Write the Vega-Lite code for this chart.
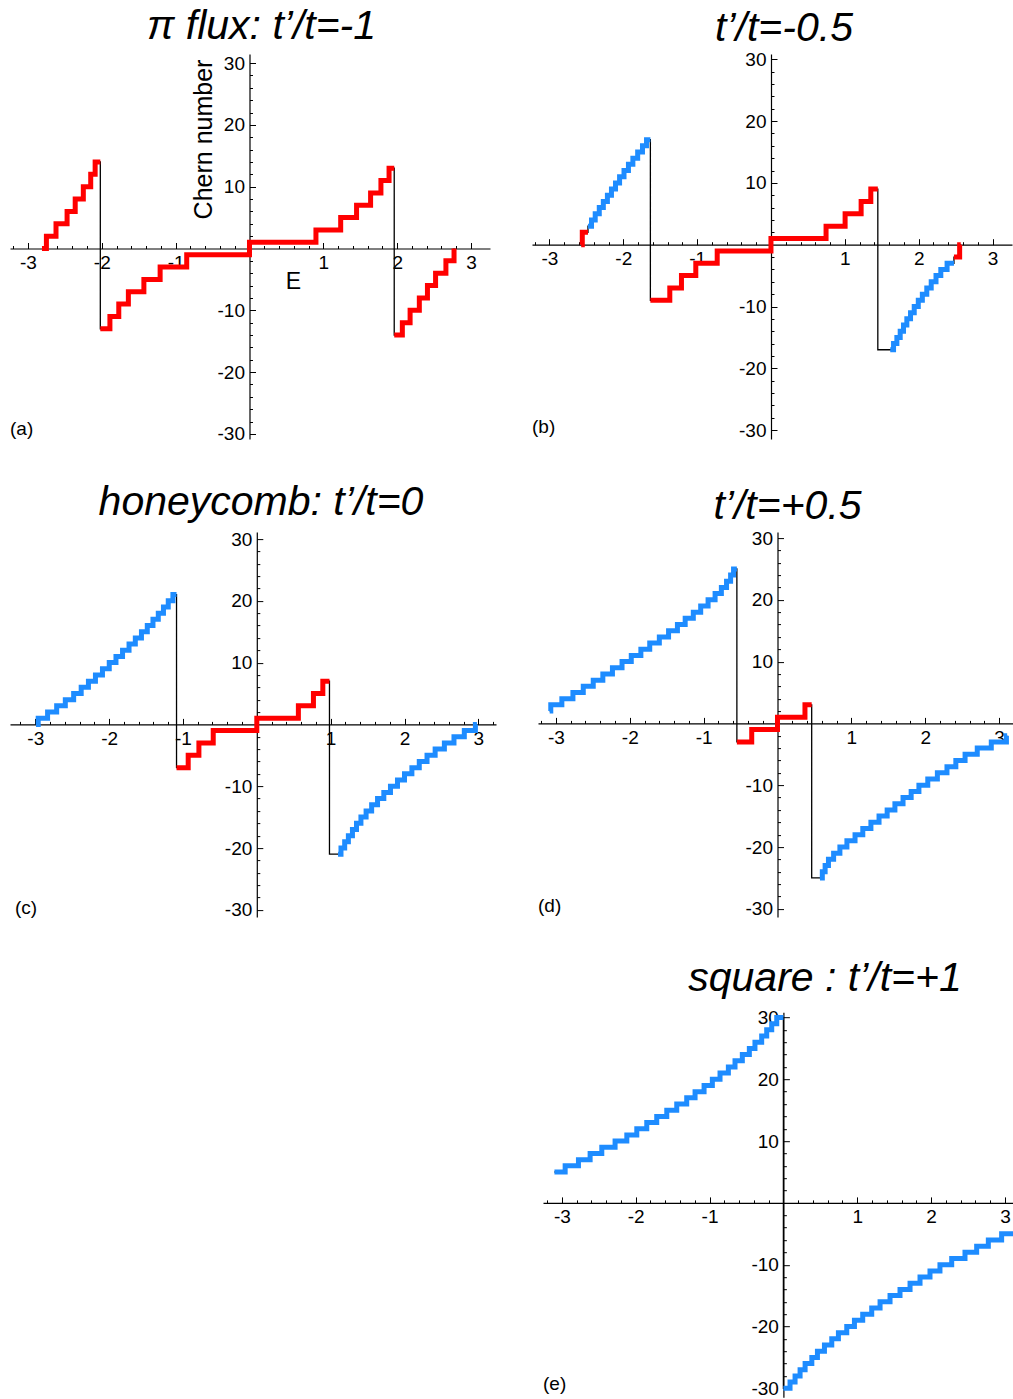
{
  "$schema": "https://vega.github.io/schema/vega-lite/v6.json",
  "background": "white",
  "padding": {"left": 10, "top": 6, "right": 0, "bottom": 0},
  "config": {
    "view": {"stroke": null},
    "axis": {"grid": false, "domainColor": "black", "tickColor": "black", "labelColor": "black", "labelFont": "Liberation Sans", "labelFontSize": 19, "domainWidth": 1.2, "tickWidth": 1, "labelFlush": false, "labelOverlap": false, "labelPadding": 11, "titleColor": "black", "titleFont": "Liberation Sans", "titleFontWeight": "normal"},
    "title": {"font": "Liberation Sans", "fontStyle": "italic", "fontWeight": "normal", "fontSize": 41, "color": "black", "anchor": "middle", "frame": "group", "baseline": "alphabetic"},
    "text": {"font": "Liberation Sans", "fontSize": 19, "color": "black"},
    "line": {"interpolate": "step-after"}
  },
  "datasets": {
    "a": [
      {"E": -2.81, "C": 0, "s": "r", "g": 1}, {"E": -2.75, "C": 2, "s": "r", "g": 1}, {"E": -2.62, "C": 4, "s": "r", "g": 1}, {"E": -2.47, "C": 6, "s": "r", "g": 1}, {"E": -2.36, "C": 8, "s": "r", "g": 1}, {"E": -2.25, "C": 10, "s": "r", "g": 1}, {"E": -2.15, "C": 12, "s": "r", "g": 1}, {"E": -2.09, "C": 14, "s": "r", "g": 1}, {"E": -2.02, "C": 14, "s": "r", "g": 1},
      {"E": -2.02, "C": -13, "s": "r", "g": 2}, {"E": -1.89, "C": -11, "s": "r", "g": 2}, {"E": -1.77, "C": -9, "s": "r", "g": 2}, {"E": -1.64, "C": -7, "s": "r", "g": 2}, {"E": -1.43, "C": -5, "s": "r", "g": 2}, {"E": -1.21, "C": -3, "s": "r", "g": 2}, {"E": -0.85, "C": -1, "s": "r", "g": 2}, {"E": 0, "C": 1, "s": "r", "g": 2}, {"E": 0.9, "C": 3, "s": "r", "g": 2}, {"E": 1.235, "C": 5, "s": "r", "g": 2}, {"E": 1.45, "C": 7, "s": "r", "g": 2}, {"E": 1.64, "C": 9, "s": "r", "g": 2}, {"E": 1.78, "C": 11, "s": "r", "g": 2}, {"E": 1.89, "C": 13, "s": "r", "g": 2}, {"E": 1.96, "C": 13, "s": "r", "g": 2},
      {"E": 1.96, "C": -14, "s": "r", "g": 3}, {"E": 2.07, "C": -12, "s": "r", "g": 3}, {"E": 2.175, "C": -10, "s": "r", "g": 3}, {"E": 2.3, "C": -8, "s": "r", "g": 3}, {"E": 2.41, "C": -6, "s": "r", "g": 3}, {"E": 2.52, "C": -4, "s": "r", "g": 3}, {"E": 2.66, "C": -2, "s": "r", "g": 3}, {"E": 2.77, "C": 0, "s": "r", "g": 3}
    ],
    "b": [
      {"E": -2.57, "C": 0, "s": "r", "g": 1}, {"E": -2.555, "C": 2, "s": "r", "g": 1}, {"E": -2.478, "C": 2, "s": "r", "g": 1},
      {"E": -2.478, "C": 3, "s": "b", "g": 2}, {"E": -2.43, "C": 4, "s": "b", "g": 2}, {"E": -2.38, "C": 5, "s": "b", "g": 2}, {"E": -2.325, "C": 6, "s": "b", "g": 2}, {"E": -2.27, "C": 7, "s": "b", "g": 2}, {"E": -2.215, "C": 8, "s": "b", "g": 2}, {"E": -2.16, "C": 9, "s": "b", "g": 2}, {"E": -2.105, "C": 10, "s": "b", "g": 2}, {"E": -2.05, "C": 11, "s": "b", "g": 2}, {"E": -1.99, "C": 12, "s": "b", "g": 2}, {"E": -1.93, "C": 13, "s": "b", "g": 2}, {"E": -1.87, "C": 14, "s": "b", "g": 2}, {"E": -1.805, "C": 15, "s": "b", "g": 2}, {"E": -1.74, "C": 16, "s": "b", "g": 2}, {"E": -1.685, "C": 17, "s": "b", "g": 2}, {"E": -1.633, "C": 17, "s": "b", "g": 2},
      {"E": -1.633, "C": -9, "s": "r", "g": 3}, {"E": -1.37, "C": -7, "s": "r", "g": 3}, {"E": -1.212, "C": -5, "s": "r", "g": 3}, {"E": -1.018, "C": -3, "s": "r", "g": 3}, {"E": -0.728, "C": -1, "s": "r", "g": 3}, {"E": 0, "C": 1, "s": "r", "g": 3}, {"E": 0.746, "C": 3, "s": "r", "g": 3}, {"E": 1.004, "C": 5, "s": "r", "g": 3}, {"E": 1.221, "C": 7, "s": "r", "g": 3}, {"E": 1.352, "C": 9, "s": "r", "g": 3}, {"E": 1.447, "C": 9, "s": "r", "g": 3},
      {"E": 1.447, "C": -17, "s": "k", "g": 0},
      {"E": 1.615, "C": -17, "s": "b", "g": 4}, {"E": 1.66, "C": -16, "s": "b", "g": 4}, {"E": 1.705, "C": -15, "s": "b", "g": 4}, {"E": 1.75, "C": -14, "s": "b", "g": 4}, {"E": 1.795, "C": -13, "s": "b", "g": 4}, {"E": 1.84, "C": -12, "s": "b", "g": 4}, {"E": 1.89, "C": -11, "s": "b", "g": 4}, {"E": 1.94, "C": -10, "s": "b", "g": 4}, {"E": 1.995, "C": -9, "s": "b", "g": 4}, {"E": 2.05, "C": -8, "s": "b", "g": 4}, {"E": 2.11, "C": -7, "s": "b", "g": 4}, {"E": 2.17, "C": -6, "s": "b", "g": 4}, {"E": 2.235, "C": -5, "s": "b", "g": 4}, {"E": 2.3, "C": -4, "s": "b", "g": 4}, {"E": 2.385, "C": -3, "s": "b", "g": 4}, {"E": 2.478, "C": -3, "s": "b", "g": 4},
      {"E": 2.478, "C": -2, "s": "r", "g": 5}, {"E": 2.555, "C": 0, "s": "r", "g": 5}, {"E": 2.57, "C": 0, "s": "r", "g": 5}
    ],
    "c": [
      {"E": -2.99, "C": 0, "s": "b", "g": 1}, {"E": -2.96, "C": 1, "s": "b", "g": 1}, {"E": -2.833, "C": 2, "s": "b", "g": 1}, {"E": -2.71, "C": 3, "s": "b", "g": 1}, {"E": -2.593, "C": 4, "s": "b", "g": 1}, {"E": -2.48, "C": 5, "s": "b", "g": 1}, {"E": -2.378, "C": 6, "s": "b", "g": 1}, {"E": -2.28, "C": 7, "s": "b", "g": 1}, {"E": -2.185, "C": 8, "s": "b", "g": 1}, {"E": -2.09, "C": 9, "s": "b", "g": 1}, {"E": -1.998, "C": 10, "s": "b", "g": 1}, {"E": -1.907, "C": 11, "s": "b", "g": 1}, {"E": -1.818, "C": 12, "s": "b", "g": 1}, {"E": -1.73, "C": 13, "s": "b", "g": 1}, {"E": -1.645, "C": 14, "s": "b", "g": 1}, {"E": -1.562, "C": 15, "s": "b", "g": 1}, {"E": -1.483, "C": 16, "s": "b", "g": 1}, {"E": -1.406, "C": 17, "s": "b", "g": 1}, {"E": -1.334, "C": 18, "s": "b", "g": 1}, {"E": -1.264, "C": 19, "s": "b", "g": 1}, {"E": -1.199, "C": 20, "s": "b", "g": 1}, {"E": -1.136, "C": 21, "s": "b", "g": 1}, {"E": -1.087, "C": 21, "s": "b", "g": 1},
      {"E": -1.087, "C": -7, "s": "r", "g": 2}, {"E": -0.929, "C": -5, "s": "r", "g": 2}, {"E": -0.784, "C": -3, "s": "r", "g": 2}, {"E": -0.59, "C": -1, "s": "r", "g": 2}, {"E": 0, "C": 1, "s": "r", "g": 2}, {"E": 0.563, "C": 3, "s": "r", "g": 2}, {"E": 0.767, "C": 5, "s": "r", "g": 2}, {"E": 0.894, "C": 7, "s": "r", "g": 2}, {"E": 0.984, "C": 7, "s": "r", "g": 2},
      {"E": 0.984, "C": -21, "s": "k", "g": 0},
      {"E": 1.1, "C": -21, "s": "b", "g": 3}, {"E": 1.14, "C": -20, "s": "b", "g": 3}, {"E": 1.19, "C": -19, "s": "b", "g": 3}, {"E": 1.24, "C": -18, "s": "b", "g": 3}, {"E": 1.295, "C": -17, "s": "b", "g": 3}, {"E": 1.35, "C": -16, "s": "b", "g": 3}, {"E": 1.41, "C": -15, "s": "b", "g": 3}, {"E": 1.48, "C": -14, "s": "b", "g": 3}, {"E": 1.555, "C": -13, "s": "b", "g": 3}, {"E": 1.635, "C": -12, "s": "b", "g": 3}, {"E": 1.72, "C": -11, "s": "b", "g": 3}, {"E": 1.81, "C": -10, "s": "b", "g": 3}, {"E": 1.905, "C": -9, "s": "b", "g": 3}, {"E": 2.0, "C": -8, "s": "b", "g": 3}, {"E": 2.1, "C": -7, "s": "b", "g": 3}, {"E": 2.2, "C": -6, "s": "b", "g": 3}, {"E": 2.305, "C": -5, "s": "b", "g": 3}, {"E": 2.415, "C": -4, "s": "b", "g": 3}, {"E": 2.54, "C": -3, "s": "b", "g": 3}, {"E": 2.67, "C": -2, "s": "b", "g": 3}, {"E": 2.81, "C": -1, "s": "b", "g": 3}, {"E": 2.96, "C": 0, "s": "b", "g": 3}, {"E": 2.98, "C": 0, "s": "b", "g": 3}
    ],
    "d": [
      {"E": -3.085, "C": 2, "s": "b", "g": 1}, {"E": -3.07, "C": 3, "s": "b", "g": 1}, {"E": -2.92, "C": 4, "s": "b", "g": 1}, {"E": -2.77, "C": 5, "s": "b", "g": 1}, {"E": -2.63, "C": 6, "s": "b", "g": 1}, {"E": -2.495, "C": 7, "s": "b", "g": 1}, {"E": -2.365, "C": 8, "s": "b", "g": 1}, {"E": -2.235, "C": 9, "s": "b", "g": 1}, {"E": -2.105, "C": 10, "s": "b", "g": 1}, {"E": -1.98, "C": 11, "s": "b", "g": 1}, {"E": -1.85, "C": 12, "s": "b", "g": 1}, {"E": -1.73, "C": 13, "s": "b", "g": 1}, {"E": -1.6, "C": 14, "s": "b", "g": 1}, {"E": -1.475, "C": 15, "s": "b", "g": 1}, {"E": -1.355, "C": 16, "s": "b", "g": 1}, {"E": -1.25, "C": 17, "s": "b", "g": 1}, {"E": -1.14, "C": 18, "s": "b", "g": 1}, {"E": -1.04, "C": 19, "s": "b", "g": 1}, {"E": -0.94, "C": 20, "s": "b", "g": 1}, {"E": -0.845, "C": 21, "s": "b", "g": 1}, {"E": -0.76, "C": 22, "s": "b", "g": 1}, {"E": -0.69, "C": 23, "s": "b", "g": 1}, {"E": -0.635, "C": 24, "s": "b", "g": 1}, {"E": -0.595, "C": 25, "s": "b", "g": 1}, {"E": -0.55, "C": 25, "s": "b", "g": 1},
      {"E": -0.55, "C": -3, "s": "r", "g": 2}, {"E": -0.349, "C": -1, "s": "r", "g": 2}, {"E": 0, "C": 1, "s": "r", "g": 2}, {"E": 0.372, "C": 3, "s": "r", "g": 2}, {"E": 0.463, "C": 3, "s": "r", "g": 2},
      {"E": 0.463, "C": -25, "s": "k", "g": 0},
      {"E": 0.575, "C": -25, "s": "b", "g": 3}, {"E": 0.607, "C": -24, "s": "b", "g": 3}, {"E": 0.645, "C": -23, "s": "b", "g": 3}, {"E": 0.69, "C": -22, "s": "b", "g": 3}, {"E": 0.76, "C": -21, "s": "b", "g": 3}, {"E": 0.845, "C": -20, "s": "b", "g": 3}, {"E": 0.94, "C": -19, "s": "b", "g": 3}, {"E": 1.05, "C": -18, "s": "b", "g": 3}, {"E": 1.155, "C": -17, "s": "b", "g": 3}, {"E": 1.265, "C": -16, "s": "b", "g": 3}, {"E": 1.375, "C": -15, "s": "b", "g": 3}, {"E": 1.485, "C": -14, "s": "b", "g": 3}, {"E": 1.59, "C": -13, "s": "b", "g": 3}, {"E": 1.7, "C": -12, "s": "b", "g": 3}, {"E": 1.81, "C": -11, "s": "b", "g": 3}, {"E": 1.915, "C": -10, "s": "b", "g": 3}, {"E": 2.035, "C": -9, "s": "b", "g": 3}, {"E": 2.165, "C": -8, "s": "b", "g": 3}, {"E": 2.295, "C": -7, "s": "b", "g": 3}, {"E": 2.415, "C": -6, "s": "b", "g": 3}, {"E": 2.54, "C": -5, "s": "b", "g": 3}, {"E": 2.705, "C": -4, "s": "b", "g": 3}, {"E": 2.895, "C": -3, "s": "b", "g": 3}, {"E": 3.1, "C": -2, "s": "b", "g": 3}, {"E": 3.11, "C": -2, "s": "b", "g": 3}
    ],
    "e": [
      {"E": -3.1, "C": 5, "s": "b", "g": 1}, {"E": -2.955, "C": 6, "s": "b", "g": 1}, {"E": -2.775, "C": 7, "s": "b", "g": 1}, {"E": -2.617, "C": 8, "s": "b", "g": 1}, {"E": -2.459, "C": 9, "s": "b", "g": 1}, {"E": -2.279, "C": 10, "s": "b", "g": 1}, {"E": -2.12, "C": 11, "s": "b", "g": 1}, {"E": -1.985, "C": 12, "s": "b", "g": 1}, {"E": -1.85, "C": 13, "s": "b", "g": 1}, {"E": -1.715, "C": 14, "s": "b", "g": 1}, {"E": -1.579, "C": 15, "s": "b", "g": 1}, {"E": -1.444, "C": 16, "s": "b", "g": 1}, {"E": -1.309, "C": 17, "s": "b", "g": 1}, {"E": -1.196, "C": 18, "s": "b", "g": 1}, {"E": -1.074, "C": 19, "s": "b", "g": 1}, {"E": -0.962, "C": 20, "s": "b", "g": 1}, {"E": -0.858, "C": 21, "s": "b", "g": 1}, {"E": -0.745, "C": 22, "s": "b", "g": 1}, {"E": -0.655, "C": 23, "s": "b", "g": 1}, {"E": -0.556, "C": 24, "s": "b", "g": 1}, {"E": -0.461, "C": 25, "s": "b", "g": 1}, {"E": -0.385, "C": 26, "s": "b", "g": 1}, {"E": -0.294, "C": 27, "s": "b", "g": 1}, {"E": -0.226, "C": 28, "s": "b", "g": 1}, {"E": -0.158, "C": 29, "s": "b", "g": 1}, {"E": -0.09, "C": 30, "s": "b", "g": 1}, {"E": 0, "C": 30, "s": "b", "g": 1},
      {"E": 0, "C": -30, "s": "b", "g": 2}, {"E": 0.09, "C": -29, "s": "b", "g": 2}, {"E": 0.158, "C": -28, "s": "b", "g": 2}, {"E": 0.226, "C": -27, "s": "b", "g": 2}, {"E": 0.294, "C": -26, "s": "b", "g": 2}, {"E": 0.385, "C": -25, "s": "b", "g": 2}, {"E": 0.461, "C": -24, "s": "b", "g": 2}, {"E": 0.556, "C": -23, "s": "b", "g": 2}, {"E": 0.655, "C": -22, "s": "b", "g": 2}, {"E": 0.745, "C": -21, "s": "b", "g": 2}, {"E": 0.858, "C": -20, "s": "b", "g": 2}, {"E": 0.962, "C": -19, "s": "b", "g": 2}, {"E": 1.074, "C": -18, "s": "b", "g": 2}, {"E": 1.196, "C": -17, "s": "b", "g": 2}, {"E": 1.309, "C": -16, "s": "b", "g": 2}, {"E": 1.444, "C": -15, "s": "b", "g": 2}, {"E": 1.579, "C": -14, "s": "b", "g": 2}, {"E": 1.715, "C": -13, "s": "b", "g": 2}, {"E": 1.85, "C": -12, "s": "b", "g": 2}, {"E": 1.985, "C": -11, "s": "b", "g": 2}, {"E": 2.12, "C": -10, "s": "b", "g": 2}, {"E": 2.279, "C": -9, "s": "b", "g": 2}, {"E": 2.459, "C": -8, "s": "b", "g": 2}, {"E": 2.617, "C": -7, "s": "b", "g": 2}, {"E": 2.775, "C": -6, "s": "b", "g": 2}, {"E": 2.955, "C": -5, "s": "b", "g": 2}, {"E": 3.11, "C": -5, "s": "b", "g": 2}
    ]
  },
  "vconcat": [
    {
      "hconcat": [
        {
          "width": 480, "height": 385,
          "data": {"name": "a"},
          "title": {"text": "π flux: t’/t=-1", "dx": 11.5, "offset": 6},
          "transform": [{"window": [{"op": "row_number", "as": "n"}]}],
          "layer": [
            {"mark": {"type": "line", "color": "black", "strokeWidth": 1.3},
             "encoding": {
               "x": {"field": "E", "type": "quantitative", "scale": {"domain": [-3.243, 3.257], "nice": false, "zero": false},
                     "axis": {"orient": "bottom", "offset": -190.5, "values": [-3, -2, -1, 1, 2, 3], "tickSize": -6, "labelExpr": "'' + datum.value", "title": "E", "titleX": 283, "titleY": 40, "titleAlign": "center", "titleBaseline": "alphabetic", "titleFontSize": 23, "titleAngle": 0}},
               "y": {"field": "C", "type": "quantitative", "scale": {"domain": [-30.825, 31.472], "nice": false, "zero": false},
                     "axis": {"orient": "left", "offset": -239.5, "values": [-30, -20, -10, 10, 20, 30], "tickSize": -6, "labelExpr": "'' + datum.value", "title": "Chern number", "titleX": -38, "titleY": 85, "titleAngle": 270, "titleAlign": "center", "titleBaseline": "alphabetic", "titleFontSize": 25}},
               "order": {"field": "n", "type": "quantitative"}
             }},
            {"transform": [{"filter": "datum.s != 'k'"}],
             "mark": {"type": "line", "strokeWidth": 5},
             "encoding": {
               "x": {"field": "E", "type": "quantitative", "axis": {"orient": "bottom", "offset": -190.5, "values": [-3.2, -2.8, -2.6, -2.4, -2.2, -1.8, -1.6, -1.4, -1.2, -0.8, -0.6, -0.4, -0.2, 0.2, 0.4, 0.6, 0.8, 1.2, 1.4, 1.6, 1.8, 2.2, 2.4, 2.6, 2.8], "labels": false, "domain": false, "tickSize": -3, "title": null}},
               "y": {"field": "C", "type": "quantitative", "axis": {"orient": "left", "offset": -239.5, "values": [-28, -26, -24, -22, -18, -16, -14, -12, -8, -6, -4, -2, 2, 4, 6, 8, 12, 14, 16, 18, 22, 24, 26, 28], "labels": false, "domain": false, "tickSize": -3, "title": null}},
               "color": {"field": "s", "type": "nominal", "scale": {"domain": ["r", "b"], "range": ["#ff0000", "#1e8cff"]}, "legend": null},
               "detail": {"field": "g", "type": "nominal"},
               "order": {"field": "n", "type": "quantitative"}
             }},
            {"data": {"values": [{"E": -3.243, "C": -30.2, "t": "(a)"}]},
             "mark": {"type": "text", "align": "left", "baseline": "alphabetic"},
             "encoding": {"x": {"field": "E", "type": "quantitative", "axis": null}, "y": {"field": "C", "type": "quantitative", "axis": null}, "text": {"field": "t"}}}
          ],
          "resolve": {"axis": {"x": "independent", "y": "independent"}}
        },
        {
          "width": 480, "height": 385,
          "data": {"name": "b"},
          "title": {"text": "t’/t=-0.5", "dx": 12, "offset": 0},
          "transform": [{"window": [{"op": "row_number", "as": "n"}]}],
          "layer": [
            {"mark": {"type": "line", "color": "black", "strokeWidth": 1.3},
             "encoding": {
               "x": {"field": "E", "type": "quantitative", "scale": {"domain": [-3.236, 3.264], "nice": false, "zero": false},
                     "axis": {"orient": "bottom", "offset": -194.3, "values": [-3, -2, -1, 1, 2, 3], "tickSize": -6, "labelExpr": "'' + datum.value", "title": null}},
               "y": {"field": "C", "type": "quantitative", "scale": {"domain": [-31.44, 30.858], "nice": false, "zero": false},
                     "axis": {"orient": "left", "offset": -239, "values": [-30, -20, -10, 10, 20, 30], "tickSize": -6, "labelExpr": "'' + datum.value", "title": null}},
               "order": {"field": "n", "type": "quantitative"}
             }},
            {"transform": [{"filter": "datum.s != 'k'"}],
             "mark": {"type": "line", "strokeWidth": 5},
             "encoding": {
               "x": {"field": "E", "type": "quantitative", "axis": {"orient": "bottom", "offset": -194.3, "values": [-3.2, -2.8, -2.6, -2.4, -2.2, -1.8, -1.6, -1.4, -1.2, -0.8, -0.6, -0.4, -0.2, 0.2, 0.4, 0.6, 0.8, 1.2, 1.4, 1.6, 1.8, 2.2, 2.4, 2.6, 2.8], "labels": false, "domain": false, "tickSize": -3, "title": null}},
               "y": {"field": "C", "type": "quantitative", "axis": {"orient": "left", "offset": -239, "values": [-28, -26, -24, -22, -18, -16, -14, -12, -8, -6, -4, -2, 2, 4, 6, 8, 12, 14, 16, 18, 22, 24, 26, 28], "labels": false, "domain": false, "tickSize": -3, "title": null}},
               "color": {"field": "s", "type": "nominal", "scale": {"domain": ["r", "b"], "range": ["#ff0000", "#1e8cff"]}, "legend": null},
               "detail": {"field": "g", "type": "nominal"},
               "order": {"field": "n", "type": "quantitative"}
             }},
            {"data": {"values": [{"E": -3.236, "C": -30.47, "t": "(b)"}]},
             "mark": {"type": "text", "align": "left", "baseline": "alphabetic"},
             "encoding": {"x": {"field": "E", "type": "quantitative", "axis": null}, "y": {"field": "C", "type": "quantitative", "axis": null}, "text": {"field": "t"}}}
          ],
          "resolve": {"axis": {"x": "independent", "y": "independent"}}
        }
      ],
      "spacing": 42, "bounds": "flush"
    },
    {
      "hconcat": [
        {
          "width": 486, "height": 385,
          "data": {"name": "c"},
          "title": {"text": "honeycomb: t’/t=0", "dx": 8, "offset": 6.5},
          "transform": [{"window": [{"op": "row_number", "as": "n"}]}],
          "layer": [
            {"mark": {"type": "line", "color": "black", "strokeWidth": 1.3},
             "encoding": {
               "x": {"field": "E", "type": "quantitative", "scale": {"domain": [-3.342, 3.239], "nice": false, "zero": false},
                     "axis": {"orient": "bottom", "offset": -192.7, "values": [-3, -2, -1, 1, 2, 3], "tickSize": -6, "labelExpr": "'' + datum.value", "title": null}},
               "y": {"field": "C", "type": "quantitative", "scale": {"domain": [-31.181, 31.117], "nice": false, "zero": false},
                     "axis": {"orient": "left", "offset": -246.8, "values": [-30, -20, -10, 10, 20, 30], "tickSize": -6, "labelExpr": "'' + datum.value", "title": null}},
               "order": {"field": "n", "type": "quantitative"}
             }},
            {"transform": [{"filter": "datum.s != 'k'"}],
             "mark": {"type": "line", "strokeWidth": 5},
             "encoding": {
               "x": {"field": "E", "type": "quantitative", "axis": {"orient": "bottom", "offset": -192.7, "values": [-3.2, -2.8, -2.6, -2.4, -2.2, -1.8, -1.6, -1.4, -1.2, -0.8, -0.6, -0.4, -0.2, 0.2, 0.4, 0.6, 0.8, 1.2, 1.4, 1.6, 1.8, 2.2, 2.4, 2.6, 2.8, 3.2], "labels": false, "domain": false, "tickSize": -3, "title": null}},
               "y": {"field": "C", "type": "quantitative", "axis": {"orient": "left", "offset": -246.8, "values": [-28, -26, -24, -22, -18, -16, -14, -12, -8, -6, -4, -2, 2, 4, 6, 8, 12, 14, 16, 18, 22, 24, 26, 28], "labels": false, "domain": false, "tickSize": -3, "title": null}},
               "color": {"field": "s", "type": "nominal", "scale": {"domain": ["r", "b"], "range": ["#ff0000", "#1e8cff"]}, "legend": null},
               "detail": {"field": "g", "type": "nominal"},
               "order": {"field": "n", "type": "quantitative"}
             }},
            {"data": {"values": [{"E": -3.274, "C": -30.6, "t": "(c)"}]},
             "mark": {"type": "text", "align": "left", "baseline": "alphabetic"},
             "encoding": {"x": {"field": "E", "type": "quantitative", "axis": null}, "y": {"field": "C", "type": "quantitative", "axis": null}, "text": {"field": "t"}}}
          ],
          "resolve": {"axis": {"x": "independent", "y": "independent"}}
        },
        {
          "width": 475, "height": 385,
          "data": {"name": "d"},
          "title": {"text": "t’/t=+0.5", "dx": 12, "offset": 1},
          "transform": [{"window": [{"op": "row_number", "as": "n"}]}],
          "layer": [
            {"mark": {"type": "line", "color": "black", "strokeWidth": 1.3},
             "encoding": {
               "x": {"field": "E", "type": "quantitative", "scale": {"domain": [-3.243, 3.189], "nice": false, "zero": false},
                     "axis": {"orient": "bottom", "offset": -193.7, "values": [-3, -2, -1, 1, 2, 3], "tickSize": -6, "labelExpr": "'' + datum.value", "title": null}},
               "y": {"field": "C", "type": "quantitative", "scale": {"domain": [-31.343, 30.955], "nice": false, "zero": false},
                     "axis": {"orient": "left", "offset": -239.5, "values": [-30, -20, -10, 10, 20, 30], "tickSize": -6, "labelExpr": "'' + datum.value", "title": null}},
               "order": {"field": "n", "type": "quantitative"}
             }},
            {"transform": [{"filter": "datum.s != 'k'"}],
             "mark": {"type": "line", "strokeWidth": 5},
             "encoding": {
               "x": {"field": "E", "type": "quantitative", "axis": {"orient": "bottom", "offset": -193.7, "values": [-3.2, -2.8, -2.6, -2.4, -2.2, -1.8, -1.6, -1.4, -1.2, -0.8, -0.6, -0.4, -0.2, 0.2, 0.4, 0.6, 0.8, 1.2, 1.4, 1.6, 1.8, 2.2, 2.4, 2.6, 2.8], "labels": false, "domain": false, "tickSize": -3, "title": null}},
               "y": {"field": "C", "type": "quantitative", "axis": {"orient": "left", "offset": -239.5, "values": [-28, -26, -24, -22, -18, -16, -14, -12, -8, -6, -4, -2, 2, 4, 6, 8, 12, 14, 16, 18, 22, 24, 26, 28], "labels": false, "domain": false, "tickSize": -3, "title": null}},
               "color": {"field": "s", "type": "nominal", "scale": {"domain": ["r", "b"], "range": ["#ff0000", "#1e8cff"]}, "legend": null},
               "detail": {"field": "g", "type": "nominal"},
               "order": {"field": "n", "type": "quantitative"}
             }},
            {"data": {"values": [{"E": -3.243, "C": -30.53, "t": "(d)"}]},
             "mark": {"type": "text", "align": "left", "baseline": "alphabetic"},
             "encoding": {"x": {"field": "E", "type": "quantitative", "axis": null}, "y": {"field": "C", "type": "quantitative", "axis": null}, "text": {"field": "t"}}}
          ],
          "resolve": {"axis": {"x": "independent", "y": "independent"}}
        }
      ],
      "spacing": 42, "bounds": "flush"
    },
    {
      "hconcat": [
        {"width": 491, "height": 385, "data": {"values": []}, "mark": "point"},
        {
          "width": 470, "height": 385,
          "data": {"name": "e"},
          "title": {"text": "square : t’/t=+1", "dx": 47, "offset": 7.6},
          "transform": [{"window": [{"op": "row_number", "as": "n"}]}],
          "layer": [
            {"mark": {"type": "line", "color": "black", "strokeWidth": 1.3},
             "encoding": {
               "x": {"field": "E", "type": "quantitative", "scale": {"domain": [-3.255, 3.109], "nice": false, "zero": false},
                     "axis": {"orient": "bottom", "offset": -194.3, "values": [-3, -2, -1, 1, 2, 3], "tickSize": -6, "labelExpr": "'' + datum.value", "title": null}},
               "y": {"field": "C", "type": "quantitative", "scale": {"domain": [-31.44, 30.858], "nice": false, "zero": false},
                     "axis": {"orient": "left", "offset": -240.4, "values": [-30, -20, -10, 10, 20, 30], "tickSize": -6, "labelExpr": "'' + datum.value", "title": null}},
               "order": {"field": "n", "type": "quantitative"}
             }},
            {"transform": [{"filter": "datum.s != 'k'"}],
             "mark": {"type": "line", "strokeWidth": 5},
             "encoding": {
               "x": {"field": "E", "type": "quantitative", "axis": {"orient": "bottom", "offset": -194.3, "values": [-3.2, -2.8, -2.6, -2.4, -2.2, -1.8, -1.6, -1.4, -1.2, -0.8, -0.6, -0.4, -0.2, 0.2, 0.4, 0.6, 0.8, 1.2, 1.4, 1.6, 1.8, 2.2, 2.4, 2.6, 2.8], "labels": false, "domain": false, "tickSize": -3, "title": null}},
               "y": {"field": "C", "type": "quantitative", "axis": {"orient": "left", "offset": -240.4, "values": [-28, -26, -24, -22, -18, -16, -14, -12, -8, -6, -4, -2, 2, 4, 6, 8, 12, 14, 16, 18, 22, 24, 26, 28], "labels": false, "domain": false, "tickSize": -3, "title": null}},
               "color": {"field": "s", "type": "nominal", "scale": {"domain": ["r", "b"], "range": ["#ff0000", "#1e8cff"]}, "legend": null},
               "detail": {"field": "g", "type": "nominal"},
               "order": {"field": "n", "type": "quantitative"}
             }},
            {"data": {"values": [{"E": -3.255, "C": -30.3, "t": "(e)"}]},
             "mark": {"type": "text", "align": "left", "baseline": "alphabetic"},
             "encoding": {"x": {"field": "E", "type": "quantitative", "axis": null}, "y": {"field": "C", "type": "quantitative", "axis": null}, "text": {"field": "t"}}}
          ],
          "resolve": {"axis": {"x": "independent", "y": "independent"}}
        }
      ],
      "spacing": 42, "bounds": "flush"
    }
  ],
  "spacing": 37.1
}
